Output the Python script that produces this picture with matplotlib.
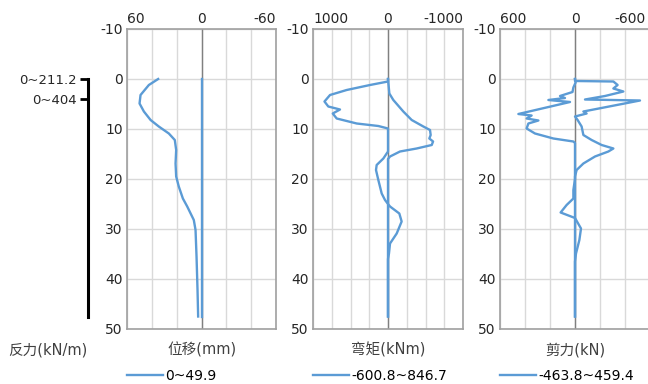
import numpy as np
import matplotlib.pyplot as plt
from matplotlib.lines import Line2D

plt.rcParams['font.family'] = ['DejaVu Sans', 'Noto Sans CJK SC']
plt.rcParams['font.size'] = 9
plt.rcParams['axes.unicode_minus'] = False

# %% data (depth in m)
pile_len = 47.6
react_depth = [0, 4]
react_labels = ['0~211.2', '0~404']

disp_depth = [0, 1.2, 3.2, 4.9, 6.5, 8.2, 9.5, 10.9, 12.2, 14.2, 16.9, 19.5,
              21.5, 23.9, 25.5, 28.2, 30.2, 35.5, 42.2, 47.5]
disp_val = [34.9, 42.4, 49.1, 49.9, 46.4, 41.0, 34.4, 26.3, 21.5, 20.4, 20.9, 20.4,
            18.3, 15.0, 11.5, 6.2, 4.8, 4.0, 3.2, 2.7]
disp0_depth = [0, 47.5]
disp0_val = [0, 0]

mom_a_depth = [0, 0.5, 1.2, 2.2, 3.2, 4.5, 5.5, 6.1, 6.9, 7.9, 8.9, 9.4, 9.9,
               14.5, 15.9, 17.2, 18.2, 20.2, 22.9, 24.2, 25.0, 47.5]
mom_a_val = [0, 0, 240, 551, 773, 847, 796, 640, 737, 684, 417, 129, 0,
             0, 62, 151, 160, 129, 84, 40, 0, 0]
mom_b_depth = [0, 2.9, 4.2, 6.5, 8.2, 9.5, 10.2, 11.2, 11.9, 12.5, 13.2, 13.9, 14.5,
               15.5, 16.0, 25.0, 25.5, 26.9, 28.5, 30.9, 32.9, 34.9, 36.0, 47.5]
mom_b_val = [0, -18, -71, -204, -316, -471, -560, -569, -551, -601, -583, -382, -160,
             -27, 0, 0, -27, -151, -182, -116, -27, -13, 0, 0]

shear_a_depth = [0, 0.4, 0.5, 1.2, 1.9, 2.5, 3.4, 4.1, 4.3, 6.5, 6.9, 7.5, 8.2, 9.5,
                 11.2, 12.2, 13.2, 13.9, 14.5, 15.5, 16.9, 18.2, 19.5,
                 27.8, 29.9, 32.2, 34.9, 36.5, 47.5]
shear_a_val = [0, 0, -307, -341, -307, -387, -240, -80, -520, -67, -93, 0, -21, -53,
               -67, -133, -213, -307, -267, -160, -67, -13, 0,
               0, -48, -35, -8, 0, 0]
shear_b_depth = [0, 0.7, 1.7, 2.6, 3.4, 3.8, 4.2, 4.6, 7.0, 7.3, 7.9, 8.3, 8.9, 9.9,
                 10.9, 11.9, 12.5, 12.8, 20.0, 22.2, 23.9, 25.2, 26.7, 27.8, 47.5]
shear_b_val = [0, -5, 13, 20, 120, 80, 213, 40, 453, 347, 387, 293, 373, 387,
               320, 173, 13, 0, 0, 13, 13, 67, 115, 0, 0]

titles = ['位移(mm)', '弯矩(kNm)', '剪力(kN)']
legends = ['0~49.9', '-600.8~846.7', '-463.8~459.4']
xlims = [(60, -60), (1000, -1000), (600, -600)]
xsteps = [20, 250, 200]

blue = '#5b9bd5'
W, H = 648, 384

fig = plt.figure(figsize=(6.48, 3.84), dpi=100)

def px(x0, y0, w, h):
    return [x0 / W, 1 - (y0 + h) / H, w / W, h / H]

# reaction bar
axr = fig.add_axes(px(88, 29, 1, 300))
axr.set_ylim(50, -10)
for s in ['top', 'right', 'bottom']:
    axr.spines[s].set_visible(False)
axr.spines['left'].set_bounds(0, pile_len)
axr.spines['left'].set_linewidth(2.2)
axr.spines['left'].set_color('black')
axr.set_xticks([])
axr.set_yticks(react_depth)
axr.set_yticklabels(react_labels)
axr.tick_params(axis='y', length=6, width=2, pad=2, colors='black', labelcolor='#262626', labelsize=9.5)
fig.text(48 / W, 1 - 350 / H, '反力(kN/m)', ha='center', va='center', fontsize=10.5, color='#404040')

series = [
    [(disp_depth, disp_val), (disp0_depth, disp0_val)],
    [(mom_a_depth, mom_a_val), (mom_b_depth, mom_b_val)],
    [(shear_a_depth, shear_a_val), (shear_b_depth, shear_b_val)],
]
lefts = [127, 313, 500]
widths = [149, 150, 150]

for i in range(3):
    ax = fig.add_axes(px(lefts[i], 29, widths[i], 300))
    lo, hi = xlims[i]
    ax.set_xlim(lo, hi)
    ax.set_ylim(50, -10)
    ax.set_xticks(np.arange(hi, lo + 1, xsteps[i]))
    ax.set_xticklabels([])
    ax.set_yticks(np.arange(-10, 51, 10))
    ax.grid(True, color='#d9d9d9', lw=1.0)
    ax.set_axisbelow(True)
    ax.axvline(0, color='#808080', lw=1.0, zorder=1)
    for s in ax.spines.values():
        s.set_color('#a0a0a0')
        s.set_linewidth(1.2)
    ax.tick_params(length=0, pad=3, labelcolor='#262626', labelsize=10)
    for d, v in series[i]:
        ax.plot(v, d, color=blue, lw=1.7, zorder=3, solid_joinstyle='round')
    # top labels: left, zero, right
    ax.text(0, 1.01, f'{lo:g}', transform=ax.transAxes, ha='left', va='bottom', fontsize=10, color='#262626')
    ax.text(0.5, 1.01, '0', transform=ax.transAxes, ha='center', va='bottom', fontsize=10, color='#262626')
    ax.text(1 if i < 2 else 0.97, 1.01, f'{hi:g}', transform=ax.transAxes, ha='right', va='bottom', fontsize=10, color='#262626')
    ax.text(0.5, -0.07, titles[i], transform=ax.transAxes, ha='center', va='center', fontsize=10.5, color='#404040')
    h = Line2D([], [], color=blue, lw=1.7)
    ax.legend([h], [legends[i]], loc='center left', bbox_to_anchor=(0, -0.157), frameon=False,
              borderpad=0, borderaxespad=0, handlelength=2.6, handletextpad=0.15, fontsize=10)

fig.savefig('out.png', dpi=100)
